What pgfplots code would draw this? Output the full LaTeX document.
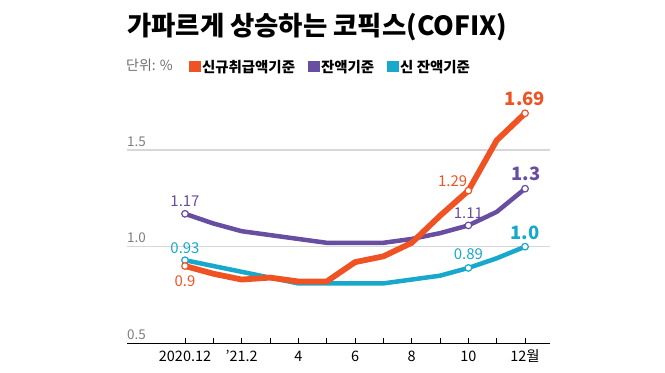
\documentclass[border=0pt]{standalone}
\usepackage{fontspec}
\setmainfont{Noto Sans CJK KR}
\usepackage{pgfplots}
\pgfplotsset{compat=1.18}
\definecolor{xorange}{RGB}{240,83,35}
\definecolor{xpurple}{RGB}{104,78,160}
\definecolor{xcyan}{RGB}{23,168,204}
\definecolor{gridgray}{RGB}{215,215,215}
\definecolor{tickgray}{RGB}{125,125,125}
\definecolor{unitgray}{RGB}{110,110,110}
\begin{document}
\begin{tikzpicture}
\path[use as bounding box] (0,0) rectangle (665bp,373bp);
\node[anchor=base west, inner sep=0pt, font=\bfseries\fontsize{26.5}{27}\selectfont] at (127bp,337bp) {가파르게 상승하는 코픽스(COFIX)};
\node[anchor=base west, inner sep=0pt, text=unitgray, font=\fontsize{14}{14}\selectfont] at (126bp,302bp) {단위: \%};
\begin{axis}[
  at={(127bp,29.65bp)}, anchor=south west,
  scale only axis, width=423bp, height=251.35bp,
  xmin=-2.047, xmax=12.88, ymin=0.5, ymax=1.8,
  axis x line*=bottom, axis y line*=left,
  y axis line style={draw=none},
  x axis line style={line width=1.1bp, black},
  xtick={0,...,12},
  xticklabels={2020.12,,’21.2,,4,,6,,8,,10,,12월},
  tick align=inside,
  xtick style={black, line width=0.9bp},
  major tick length=5bp,
  ytick={0.5,1,1.5}, yticklabels={0.5,1.0,1.5},
  ytick style={draw=none},
  ymajorgrids, grid style={color=gridgray, line width=1.3bp},
  yticklabel style={anchor=south west, inner sep=0pt, font=\fontsize{13.5}{14}\selectfont, text=tickgray, yshift=3.5bp},
  xticklabel style={anchor=north, inner sep=0pt, font=\fontsize{14.5}{15}\selectfont, text height=10.5bp, text depth=0bp, yshift=-7bp},
  clip=false,
  legend columns=3,
  legend style={at={(axis description cs:0.1466,1.0995)}, anchor=west, draw=none, fill=none, inner sep=0pt, outer sep=0pt,
    font=\bfseries\fontsize{14.5}{15}\selectfont,
    nodes={inner sep=1bp},
    /tikz/every even column/.append style={column sep=12bp}},
  legend image code/.code={\fill[#1] (0bp,-5bp) rectangle (12bp,5.5bp);},
]
\addplot[xcyan, line width=4.5bp, line join=round, line cap=round, forget plot] coordinates {
(0,0.93)(1,0.90)(2,0.87)(3,0.84)(4,0.81)(5,0.81)(6,0.81)(7,0.81)(8,0.83)(9,0.85)(10,0.89)(11,0.94)(12,1.00)};
\addplot[xpurple, line width=4.5bp, line join=round, line cap=round, forget plot] coordinates {
(0,1.17)(1,1.12)(2,1.08)(3,1.06)(4,1.04)(5,1.02)(6,1.02)(7,1.02)(8,1.04)(9,1.07)(10,1.11)(11,1.18)(12,1.30)};
\addplot[xorange, line width=5.8bp, line join=round, line cap=round, forget plot] coordinates {
(0,0.90)(1,0.86)(2,0.83)(3,0.84)(4,0.82)(5,0.82)(6,0.92)(7,0.95)(8,1.02)(9,1.16)(10,1.29)(11,1.55)(12,1.69)};
\addplot[only marks, mark=*, mark size=3.3bp, mark options={fill=white, draw=xcyan, line width=1.2bp}, forget plot] coordinates {(0,0.93)(10,0.89)(12,1.00)};
\addplot[only marks, mark=*, mark size=3.3bp, mark options={fill=white, draw=xpurple, line width=1.2bp}, forget plot] coordinates {(0,1.17)(10,1.11)(12,1.30)};
\addplot[only marks, mark=*, mark size=3.3bp, mark options={fill=white, draw=xorange, line width=1.2bp}, forget plot] coordinates {(0,0.90)(10,1.29)(12,1.69)};
\addlegendimage{fill=xorange, draw=none}
\addlegendentry{신규취급액기준}
\addlegendimage{fill=xpurple, draw=none}
\addlegendentry{잔액기준}
\addlegendimage{fill=xcyan, draw=none}
\addlegendentry{신 잔액기준}
% value labels
\node[anchor=south, inner sep=0pt, text=xorange, font=\bfseries\fontsize{18.5}{19}\selectfont, yshift=7bp] at (axis cs:12,1.69) {1.69};
\node[anchor=south, inner sep=0pt, text=xpurple, font=\bfseries\fontsize{18.5}{19}\selectfont, yshift=8bp, xshift=1bp] at (axis cs:12,1.30) {1.3};
\node[anchor=south, inner sep=0pt, text=xcyan, font=\bfseries\fontsize{18.5}{19}\selectfont, yshift=7bp] at (axis cs:12,1.00) {1.0};
\node[anchor=south, inner sep=0pt, text=xpurple, font=\fontsize{15}{15}\selectfont, yshift=7bp] at (axis cs:0,1.17) {1.17};
\node[anchor=south, inner sep=0pt, text=xcyan, font=\fontsize{15}{15}\selectfont, yshift=6bp] at (axis cs:0,0.93) {0.93};
\node[anchor=north, inner sep=0pt, text=xorange, font=\fontsize{15}{15}\selectfont, yshift=-9bp] at (axis cs:0,0.90) {0.9};
\node[anchor=south, inner sep=0pt, text=xorange, font=\fontsize{15}{15}\selectfont, yshift=3.7bp, xshift=-15.8bp] at (axis cs:10,1.29) {1.29};
\node[anchor=south, inner sep=0pt, text=xpurple, font=\fontsize{15}{15}\selectfont, yshift=7bp] at (axis cs:10,1.11) {1.11};
\node[anchor=south, inner sep=0pt, text=xcyan, font=\fontsize{15}{15}\selectfont, yshift=8bp] at (axis cs:10,0.89) {0.89};
\end{axis}
\end{tikzpicture}
\end{document}
